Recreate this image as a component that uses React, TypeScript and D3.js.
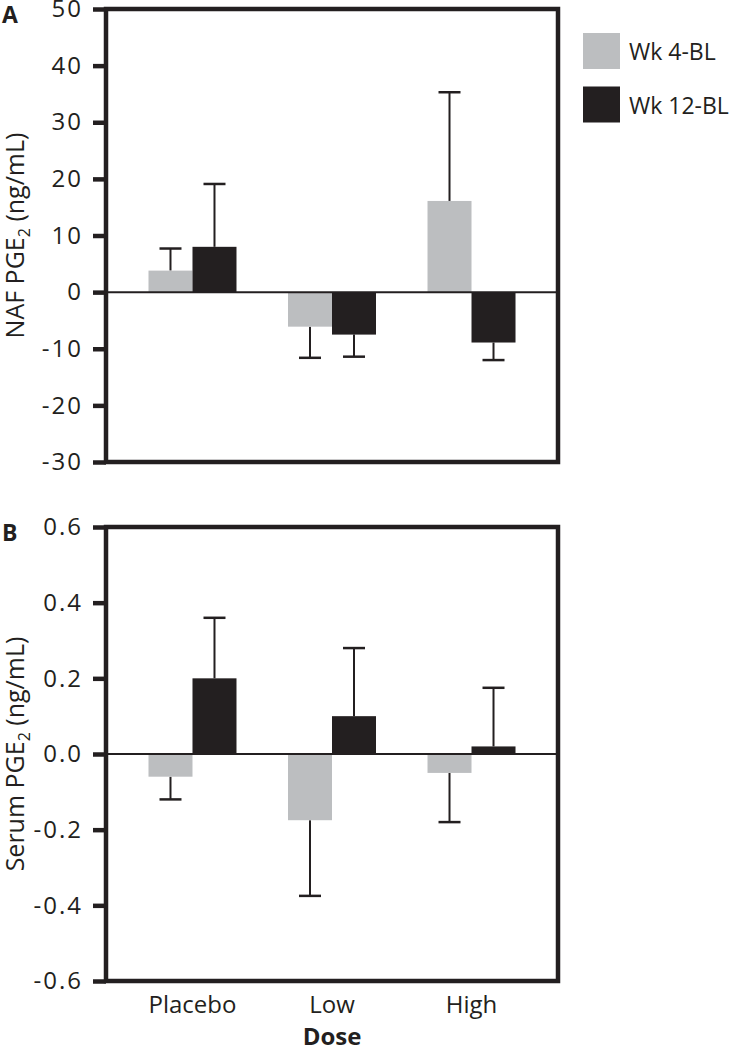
import { useRef, useEffect } from 'react';
import * as d3 from 'd3';

// categories and series
const doses = ['Placebo', 'Low', 'High'];
const seriesNames = ['Wk 4-BL', 'Wk 12-BL'];
const seriesColors = ['#bcbec0', '#231f20'];

// panel A: NAF PGE2 (ng/mL)
const nafWk4 = [3.8, -6.1, 16.1];
const nafWk4Err = [3.9, 5.5, 19.2];
const nafWk12 = [8.0, -7.5, -8.9];
const nafWk12Err = [11.1, 3.9, 3.1];
const nafTicks = [-30, -20, -10, 0, 10, 20, 30, 40, 50];

// panel B: Serum PGE2 (ng/mL)
const serumWk4 = [-0.06, -0.175, -0.05];
const serumWk4Err = [0.06, 0.2, 0.13];
const serumWk12 = [0.2, 0.1, 0.02];
const serumWk12Err = [0.16, 0.18, 0.155];
const serumTicks = [-0.6, -0.4, -0.2, 0, 0.2, 0.4, 0.6];

const ink = '#231f20';
const font = "'Open Sans', 'Noto Sans', sans-serif";

export default function App() {
  const svgRef = useRef(null);

  useEffect(() => {
    const w = 742;
    const h = 1050;
    const svg = d3.select(svgRef.current).attr('width', w).attr('height', h);
    svg.selectAll('*').remove();

    const left = 106;
    const right = 558;
    const barW = 44;

    const xScale = d3.scalePoint().domain(doses).range([left, right]).padding(0.62);

    const panels = [
      {
        letter: 'A',
        title: 'NAF PGE',
        top: 9,
        bottom: 462,
        domain: [-30, 50],
        ticks: nafTicks,
        fmt: (d) => String(d),
        series: [
          { vals: nafWk4, errs: nafWk4Err },
          { vals: nafWk12, errs: nafWk12Err },
        ],
      },
      {
        letter: 'B',
        title: 'Serum PGE',
        top: 527,
        bottom: 981,
        domain: [-0.6, 0.6],
        ticks: serumTicks,
        fmt: (d) => d3.format('.1f')(d).replace('−', '-'),
        series: [
          { vals: serumWk4, errs: serumWk4Err },
          { vals: serumWk12, errs: serumWk12Err },
        ],
      },
    ];

    panels.forEach((p) => {
      const yScale = d3.scaleLinear().domain(p.domain).range([p.bottom, p.top]);
      const g = svg.append('g');

      // bars + error bars
      p.series.forEach((s, si) => {
        doses.forEach((dose, i) => {
          const v = s.vals[i];
          const x0 = xScale(dose) - barW + si * barW;
          const y0 = yScale(Math.max(0, v));
          const y1 = yScale(Math.min(0, v));
          const tip = v >= 0 ? v + s.errs[i] : v - s.errs[i];
          const cx = x0 + barW / 2;
          g.append('line')
            .attr('x1', cx)
            .attr('x2', cx)
            .attr('y1', yScale(v))
            .attr('y2', yScale(tip))
            .attr('stroke', ink)
            .attr('stroke-width', 2);
          g.append('line')
            .attr('x1', cx - 11)
            .attr('x2', cx + 11)
            .attr('y1', yScale(tip))
            .attr('y2', yScale(tip))
            .attr('stroke', ink)
            .attr('stroke-width', 2.5);
          g.append('rect')
            .attr('x', x0)
            .attr('y', y0)
            .attr('width', barW)
            .attr('height', Math.max(1, y1 - y0))
            .attr('fill', seriesColors[si]);
        });
      });

      // zero line
      g.append('line')
        .attr('x1', left)
        .attr('x2', right)
        .attr('y1', yScale(0))
        .attr('y2', yScale(0))
        .attr('stroke', ink)
        .attr('stroke-width', 2);

      // frame
      g.append('rect')
        .attr('x', left)
        .attr('y', p.top)
        .attr('width', right - left)
        .attr('height', p.bottom - p.top)
        .attr('fill', 'none')
        .attr('stroke', ink)
        .attr('stroke-width', 4.5);

      // y axis
      const yAxis = d3
        .axisLeft(yScale)
        .tickValues(p.ticks)
        .tickFormat(p.fmt)
        .tickSize(13)
        .tickPadding(10);
      const ax = g.append('g').attr('transform', `translate(${left}, 0)`).call(yAxis);
      ax.select('.domain').remove();
      ax.selectAll('line').attr('stroke', ink).attr('stroke-width', 4.5);
      ax.selectAll('text')
        .attr('fill', ink)
        .style('font-family', font)
        .style('font-size', '24px')
        .style('letter-spacing', '2px');

      // y title
      const t = g
        .append('text')
        .attr('transform', `translate(24, ${(p.top + p.bottom) / 2}) rotate(-90)`)
        .attr('text-anchor', 'middle')
        .attr('fill', ink)
        .style('font-family', font)
        .style('font-size', '25px');
      t.append('tspan').text(p.title);
      t.append('tspan').attr('font-size', '16px').attr('dy', 6).text('2');
      t.append('tspan').attr('dy', -6).text(' (ng/mL)');

      // panel letter
      g.append('text')
        .attr('x', 2)
        .attr('y', p.top + 14)
        .attr('fill', ink)
        .style('font-family', font)
        .style('font-weight', 'bold')
        .style('font-size', '23px')
        .text(p.letter);
    });

    // x labels
    svg
      .selectAll('.xlab')
      .data(doses)
      .enter()
      .append('text')
      .attr('x', (d) => xScale(d))
      .attr('y', 1013)
      .attr('text-anchor', 'middle')
      .attr('fill', ink)
      .style('font-family', font)
      .style('font-size', '24px')
      .text((d) => d);

    svg
      .append('text')
      .attr('x', (left + right) / 2)
      .attr('y', 1045)
      .attr('text-anchor', 'middle')
      .attr('fill', ink)
      .style('font-family', font)
      .style('font-weight', 'bold')
      .style('font-size', '24px')
      .text('Dose');

    // legend
    seriesNames.forEach((name, i) => {
      const y = 33 + i * 53.5;
      svg
        .append('rect')
        .attr('x', 583)
        .attr('y', y)
        .attr('width', 37)
        .attr('height', 36)
        .attr('fill', seriesColors[i]);
      svg
        .append('text')
        .attr('x', 629)
        .attr('y', y + 27)
        .attr('fill', ink)
        .style('font-family', font)
        .style('font-size', '23px')
        .text(name);
    });
  }, []);

  return (
    <svg
      ref={svgRef}
      style={{ position: 'absolute', left: 0, top: 0, background: '#fff' }}
    ></svg>
  );
}
